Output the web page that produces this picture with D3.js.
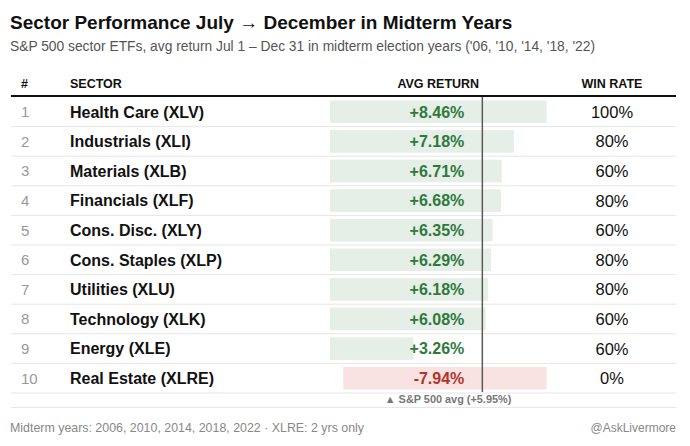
<!DOCTYPE html>
<html>
<head>
<meta charset="utf-8">
<script src="https://cdn.jsdelivr.net/npm/d3@7"></script>
<style>
  body { margin: 0; background: #ffffff; }
  svg text { font-family: "Helvetica Neue", Helvetica, Arial, "Liberation Sans", sans-serif; }
</style>
</head>
<body>
<svg id="chart"></svg>
<script>
'use strict';

// data
const sectors = ["Health Care (XLV)", "Industrials (XLI)", "Materials (XLB)", "Financials (XLF)",
                 "Cons. Disc. (XLY)", "Cons. Staples (XLP)", "Utilities (XLU)", "Technology (XLK)",
                 "Energy (XLE)", "Real Estate (XLRE)"];
const avgReturns = [8.46, 7.18, 6.71, 6.68, 6.35, 6.29, 6.18, 6.08, 3.26, -7.94];
const winRates = [100, 80, 60, 80, 60, 80, 80, 60, 60, 0];
const spAvg = 5.95;
const headers = ["#", "SECTOR", "AVG RETURN", "WIN RATE"];

const width = 690, height = 446;
const tableLeft = 11, tableRight = 676;
const rowsTop = 97, rowsBottom = 393;

const svg = d3.select("#chart")
    .attr("width", width)
    .attr("height", height);

//------------------------------------------------------------
// title + subtitle
//------------------------------------------------------------
svg.append("text")
    .attr("x", 10).attr("y", 29)
    .attr("font-size", 19).attr("font-weight", "bold")
    .attr("fill", "#111")
    .text("Sector Performance July \u2192 December in Midterm Years");

svg.append("text")
    .attr("x", 10).attr("y", 51)
    .attr("font-size", 13.8)
    .attr("fill", "#555")
    .text("S&P 500 sector ETFs, avg return Jul 1 \u2013 Dec 31 in midterm election years ('06, '10, '14, '18, '22)");

//------------------------------------------------------------
// scales
//------------------------------------------------------------
const y = d3.scaleBand()
    .domain(sectors)
    .range([rowsTop, rowsBottom]);

const maxAbs = d3.max(avgReturns, (v) => Math.abs(v));
const x = d3.scaleLinear()
    .domain([0, maxAbs])
    .range([330, 546.6]);

const colX = { rank: 21, sector: 70, avg: (x(0) + x(maxAbs)) / 2, win: 612 };

//------------------------------------------------------------
// header
//------------------------------------------------------------
const headerY = 88;
const headerPos = [[colX.rank, "start"], [colX.sector, "start"], [colX.avg, "middle"], [colX.win, "middle"]];
svg.append("g").selectAll("text")
    .data(headers)
    .enter()
    .append("text")
    .attr("x", (d, i) => headerPos[i][0])
    .attr("y", headerY)
    .attr("text-anchor", (d, i) => headerPos[i][1])
    .attr("font-size", 12.5).attr("font-weight", "bold")
    .attr("fill", "#111")
    .text((d) => d);

//------------------------------------------------------------
// rows
//------------------------------------------------------------
const rows = svg.append("g").selectAll("g")
    .data(sectors)
    .enter()
    .append("g")
    .attr("transform", (d) => `translate(0,${y(d)})`);

const rh = y.bandwidth();
const inset = 3.5;

// bars: positives grow from the left, negatives hang from the right
rows.append("rect")
    .attr("x", (d, i) => {
        let v = avgReturns[i];
        return v >= 0 ? x(0) : x(maxAbs) - (x(Math.abs(v)) - x(0));
    })
    .attr("y", inset)
    .attr("width", (d, i) => x(Math.abs(avgReturns[i])) - x(0))
    .attr("height", rh - inset * 2)
    .attr("fill", (d, i) => avgReturns[i] >= 0 ? "#e6efe7" : "#f8e3e2");

// separators
rows.append("line")
    .attr("x1", tableLeft).attr("x2", tableRight)
    .attr("y1", rh).attr("y2", rh)
    .attr("stroke", "#e6e6e6").attr("stroke-width", 1);

rows.append("text")
    .attr("x", colX.rank).attr("y", rh / 2).attr("dy", "0.36em")
    .attr("font-size", 15)
    .attr("fill", "#999")
    .text((d, i) => i + 1);

rows.append("text")
    .attr("x", colX.sector).attr("y", rh / 2).attr("dy", "0.36em")
    .attr("font-size", 16).attr("font-weight", "bold")
    .attr("fill", "#111")
    .text((d) => d);

rows.append("text")
    .attr("x", x(spAvg) - 18).attr("y", rh / 2).attr("dy", "0.36em")
    .attr("text-anchor", "end")
    .attr("font-size", 16).attr("font-weight", "bold")
    .attr("fill", (d, i) => avgReturns[i] >= 0 ? "#2e7a3c" : "#b3332b")
    .text((d, i) => (avgReturns[i] >= 0 ? "+" : "-") + Math.abs(avgReturns[i]).toFixed(2) + "%");

rows.append("text")
    .attr("x", colX.win).attr("y", rh / 2).attr("dy", "0.36em")
    .attr("text-anchor", "middle")
    .attr("font-size", 16.5)
    .attr("fill", "#111")
    .text((d, i) => winRates[i] + "%");

// header rule
svg.append("line")
    .attr("x1", tableLeft).attr("x2", tableRight)
    .attr("y1", 96).attr("y2", 96)
    .attr("stroke", "#111").attr("stroke-width", 2);

// S&P reference line
svg.append("line")
    .attr("x1", x(spAvg)).attr("x2", x(spAvg))
    .attr("y1", 97).attr("y2", rowsBottom - 1)
    .attr("stroke", "#5a5a5a").attr("stroke-width", 1.5);

// annotation row
svg.append("text")
    .attr("x", x(spAvg) + 29).attr("y", 403)
    .attr("text-anchor", "end")
    .attr("font-size", 10.9).attr("font-weight", "bold")
    .attr("fill", "#777")
    .text("\u25B2 S&P 500 avg (+" + spAvg.toFixed(2) + "%)");

svg.append("line")
    .attr("x1", tableLeft).attr("x2", tableRight)
    .attr("y1", 407.5).attr("y2", 407.5)
    .attr("stroke", "#e6e6e6").attr("stroke-width", 1);

//------------------------------------------------------------
// footer
//------------------------------------------------------------
svg.append("text")
    .attr("x", 10).attr("y", 432)
    .attr("font-size", 12.4)
    .attr("fill", "#888")
    .text("Midterm years: 2006, 2010, 2014, 2018, 2022 \u00B7 XLRE: 2 yrs only");

svg.append("text")
    .attr("x", tableRight).attr("y", 432)
    .attr("text-anchor", "end")
    .attr("font-size", 12)
    .attr("fill", "#888")
    .text("@AskLivermore");
</script>
</body>
</html>
